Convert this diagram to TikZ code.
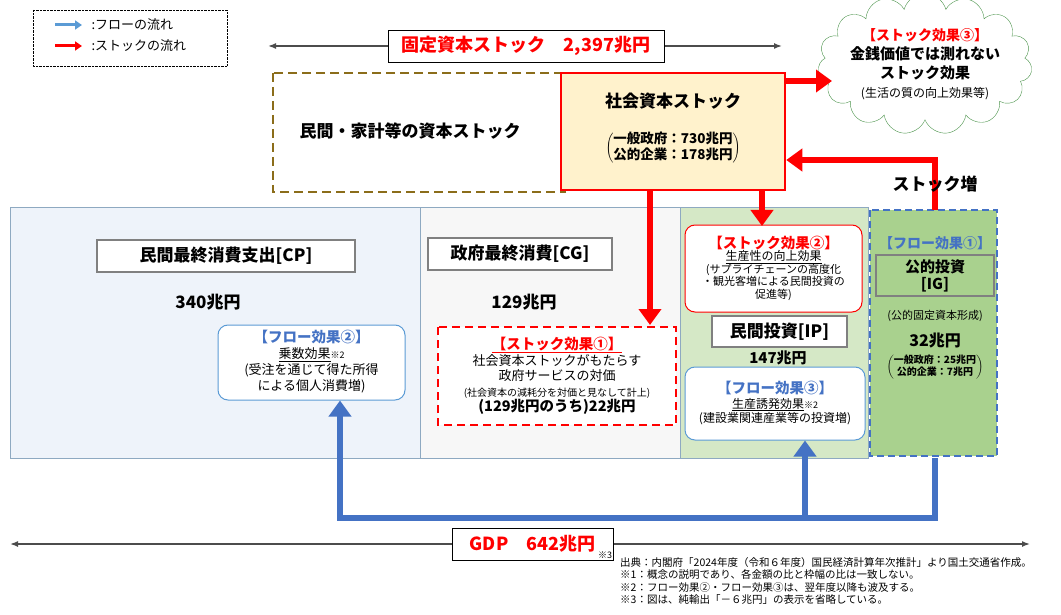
\documentclass[tikz,border=0pt]{standalone}
\usepackage{fontspec}
\setmainfont{Noto Sans CJK JP}
\usetikzlibrary{shapes, shapes.symbols, arrows.meta, positioning}
\definecolor{flowblue}{HTML}{4472C4}
\definecolor{lightblue}{HTML}{5B9BD5}
\definecolor{stockred}{HTML}{FF0000}
\definecolor{brownline}{HTML}{8B6D1A}
\definecolor{beige}{HTML}{FFF2CC}
\definecolor{cpfill}{HTML}{EEF3FA}
\definecolor{ipfill}{HTML}{D5E8C6}
\definecolor{igfill}{HTML}{A9D18E}
\definecolor{frame}{HTML}{8EA9C1}
\tikzset{
  label box/.style={draw=gray, line width=2.5pt, fill=white, font=\bfseries\fontsize{17}{20}\selectfont},
  red arrow/.style={draw=stockred, line width=6pt, -{Triangle[length=16pt, width=22pt]}},
  blue arrow/.style={draw=flowblue, line width=6pt, -{Triangle[length=16pt, width=22pt]}},
  total arrow/.style={draw=black!70, line width=1.5pt, {Latex[length=8pt]}-{Latex[length=8pt]}},
  effect box/.style={draw, rounded corners=10pt, fill=white, align=center, line width=1pt},
}
\begin{document}
\begin{tikzpicture}[x=1pt, y=-1pt]
\useasboundingbox (0,0) rectangle (1061,615);
% legend
\draw [densely dotted] (33,10) rectangle (227,66);
\draw [lightblue, line width=3pt, -{Triangle[length=7pt,width=9pt]}] (55,25) -- (82,25);
\draw [stockred, line width=3pt, -{Triangle[length=7pt,width=9pt]}] (55,46) -- (82,46);
\node [anchor=west, font=\fontsize{13}{15}\selectfont] (lgflow) at (88,25) {:フローの流れ};
\node [anchor=west, font=\fontsize{13}{15}\selectfont] (lgstock) at (88,46) {:ストックの流れ};

% fixed capital stock
\coordinate (fsl) at (268,46);
\coordinate (fsr) at (782,46);
\draw [total arrow] (fsl) -- (fsr);
\node [draw, fill=white, minimum width=276pt, minimum height=32pt, text=stockred,
  font=\bfseries\fontsize{18}{20}\selectfont] (fixed) at (526,46) {固定資本ストック\quad 2,397兆円};

% private stock and social stock
\draw [brownline, line width=2.5pt, dash pattern=on 9pt off 5pt] (273,73) rectangle (565,192);
\node [font=\bfseries\fontsize{17}{20}\selectfont] (private) at (410,131) {民間・家計等の資本ストック};
\node [draw=stockred, fill=beige, line width=2.5pt, minimum width=224pt, minimum height=117pt] (social) at (673,131.5) {};
\node [font=\bfseries\fontsize{17}{20}\selectfont] (socialtt) at (673,101) {社会資本ストック};
\node [font=\bfseries\fontsize{13.5}{16}\selectfont] (socialam) at (673,148)
  {$\left(\mbox{\begin{tabular}{@{}l@{}}一般政府：730兆円\\公的企業：178兆円\end{tabular}}\right)$};

% cloud
\node [cloud, cloud puffs=15, draw=green!40!black!70, fill=white, aspect=1.8, inner sep=-4pt,
  align=center, font=\fontsize{12}{19}\selectfont] (cloud) at (925,64)
  {\textcolor{stockred}{\bfseries\fontsize{14}{19}\selectfont【ストック効果③】}\\
  {\bfseries\fontsize{15}{19}\selectfont 金銭価値では測れない}\\
  {\bfseries\fontsize{15}{19}\selectfont ストック効果}\\
  (生活の質の向上効果等)};
\draw [red arrow] (social.east |- 0,81) -- (832,81);

% bottom panels
\draw [frame, fill=cpfill, line width=1pt] (10,208) rectangle (420,458);
\draw [frame, fill=black!3, line width=1pt] (420,208) rectangle (680,458);
\draw [frame, fill=ipfill, line width=1pt] (680,208) rectangle (868,458);
\draw [flowblue, fill=igfill, line width=2.5pt, dash pattern=on 7pt off 4pt] (870,210) rectangle (997,456);

% stock increase
\coordinate (igtop) at (935,210);
\coordinate (igturn) at (935,160);
\draw [red arrow] (igtop) -- (igturn) -- (social.east |- igturn);
\node [font=\bfseries\fontsize{17}{20}\selectfont] (incr) at (935,184) {ストック増};

% CP
\node [label box, minimum width=258pt, minimum height=32pt] (cp) at (226,256) {民間最終消費支出[CP]};
\node [font=\bfseries\fontsize{17}{20}\selectfont] (cpv) at (208,302) {340兆円};
\node [effect box, draw=lightblue, minimum width=187pt, minimum height=75pt] (flow2) at (311.5,362.5) {};
\node [align=center, font=\fontsize{13}{16}\selectfont] (flow2tx) at (311.5,362) {\textcolor{flowblue}{\bfseries\fontsize{14.5}{16}\selectfont【フロー効果②】}\\
  \underline{乗数効果}{\fontsize{9}{10}\selectfont ※2}\\(受注を通じて得た所得\\による個人消費増)};

% CG
\node [label box, minimum width=184pt, minimum height=32pt] (cg) at (520,254) {政府最終消費[CG]};
\node [font=\bfseries\fontsize{17}{20}\selectfont] (cgv) at (524,302) {129兆円};
\draw [stockred, line width=2.5pt, dash pattern=on 8pt off 5pt, fill=white] (438,327) rectangle (676,425);
\node [align=center, font=\fontsize{13}{15.5}\selectfont] (stock1) at (557,376) {\textcolor{stockred}{\bfseries\fontsize{14.5}{16}\selectfont\underline{【ストック効果①】}}\\
  社会資本ストックがもたらす\\政府サービスの対価\\{\fontsize{10}{12}\selectfont (社会資本の減耗分を対価と見なして計上)}\\
  {\bfseries\fontsize{14.5}{18}\selectfont (129兆円のうち)22兆円}};
\coordinate (cgin) at (650,325);
\draw [red arrow] (social.south -| cgin) -- (cgin);

% IP
\node [effect box, draw=stockred, minimum width=177pt, minimum height=87pt] (stock2) at (773.5,268.5) {};
\node [align=center, font=\fontsize{11}{12.5}\selectfont] (stock2tx) at (773.5,268) {\textcolor{stockred}{\bfseries\fontsize{14.5}{16}\selectfont【ストック効果②】}\\
  {\fontsize{12}{14}\selectfont\underline{生産性の向上効果}}\\(サプライチェーンの高度化\\・観光客増による民間投資の\\促進等)};
\coordinate (ipin) at (762,226);
\draw [red arrow] (social.south -| ipin) -- (ipin);
\node [label box, minimum width=135pt, minimum height=31pt] (ip) at (779.5,331.5) {民間投資[IP]};
\node [font=\bfseries\fontsize{15}{18}\selectfont] (ipv) at (778,358) {147兆円};
\node [effect box, draw=lightblue, minimum width=180pt, minimum height=73pt] (flow3) at (775,403.5) {};
\node [align=center, font=\fontsize{12}{14.5}\selectfont] (flow3tx) at (775,403) {\textcolor{flowblue}{\bfseries\fontsize{14.5}{16}\selectfont【フロー効果③】}\\
  \underline{生産誘発効果}{\fontsize{9}{10}\selectfont ※2}\\(建設業関連産業等の投資増)};

% IG
\node [text=flowblue, font=\bfseries\fontsize{14}{16}\selectfont] (flow1) at (935,243) {【フロー効果①】};
\node [label box, fill=igfill, align=center, minimum width=118pt, minimum height=41pt, font=\bfseries\fontsize{15}{17}\selectfont] (ig) at (935,275.5) {公的投資\\{[IG]}};
\node [font=\fontsize{11}{13}\selectfont] (igsub) at (935,316) {(公的固定資本形成)};
\node [font=\bfseries\fontsize{16}{18}\selectfont] (igv) at (935,341) {32兆円};
\node [font=\bfseries\fontsize{10}{12}\selectfont] (igam) at (935,367)
  {$\left(\mbox{\begin{tabular}{@{}c@{}}一般政府：25兆円\\公的企業：7兆円\end{tabular}}\right)$};

% flow path
\coordinate (igbot) at (935,458);
\coordinate (fb1) at (935,518);
\coordinate (fb2) at (340,518);
\coordinate (fb3) at (805,518);
\draw [blue arrow] (igbot) -- (fb1) -- (fb2) -- (flow2.south -| fb2);
\draw [blue arrow] (fb3) -- (flow3.south -| fb3);

% GDP
\coordinate (gdpl) at (10,544);
\coordinate (gdpr) at (1030,544);
\draw [total arrow] (gdpl) -- (gdpr);
\node [draw, fill=white, minimum width=161pt, minimum height=32pt, text=stockred,
  font=\bfseries\fontsize{18}{20}\selectfont] (gdp) at (532.5,544) {GDP\quad 642兆円\hspace{8pt}};
\node [anchor=south east, font=\fontsize{9}{10}\selectfont, inner sep=1pt] (gdpnote) at (gdp.south east) {※3};
\node [anchor=north west, align=left, font=\fontsize{10.5}{12.5}\selectfont, inner sep=2pt] (notes) at (618,555)
  {出典：内閣府「2024年度（令和６年度）国民経済計算年次推計」より国土交通省作成。\\
   ※1：概念の説明であり、各金額の比と枠幅の比は一致しない。\\
   ※2：フロー効果②・フロー効果③は、翌年度以降も波及する。\\
   ※3：図は、純輸出「－６兆円」の表示を省略している。};
\end{tikzpicture}
\end{document}
